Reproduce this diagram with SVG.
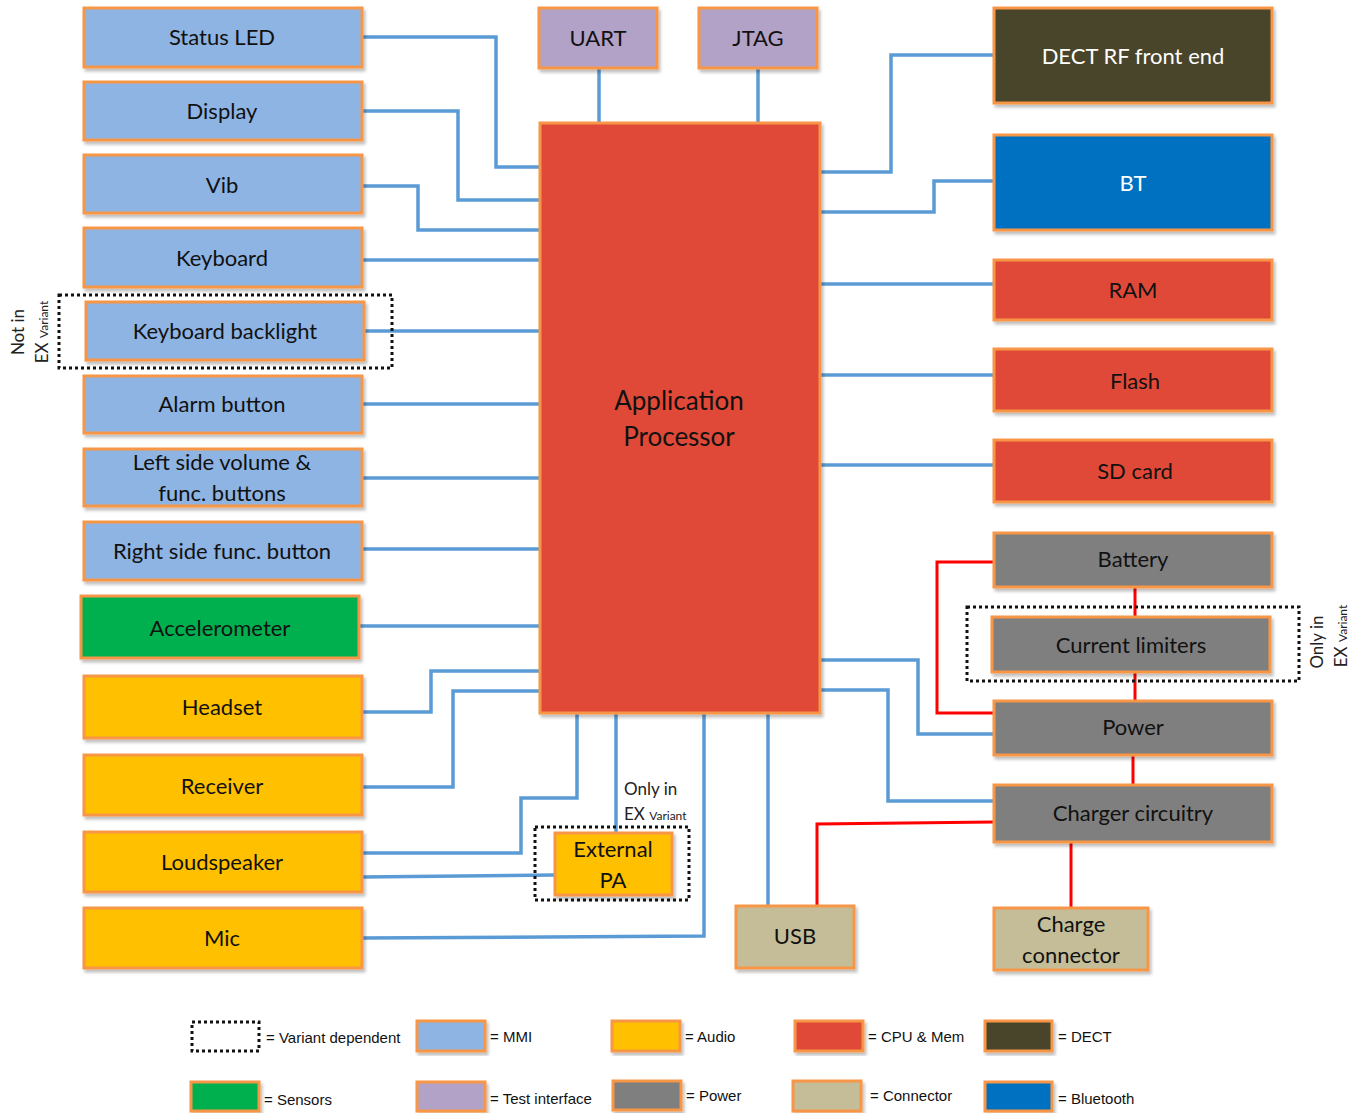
<svg xmlns="http://www.w3.org/2000/svg" width="1365" height="1113" viewBox="0 0 1365 1113">
<defs>
<filter id="sh" x="-5%" y="-5%" width="115%" height="120%"><feDropShadow dx="2" dy="3" stdDeviation="1.5" flood-color="#000" flood-opacity="0.25"/></filter>
<style>
.b{stroke:#F79646;stroke-width:3;filter:url(#sh)}
.mmi{fill:#8EB4E3}.aud{fill:#FFC000}.cpu{fill:#E04A37}.dect{fill:#4A4429}.bt{fill:#0070C0}
.sen{fill:#00B050}.tst{fill:#B3A2C7}.pwr{fill:#7F7F7F}.con{fill:#C4BD97}
.t{font-family:Lato,"Open Sans","Liberation Sans",sans-serif;font-size:22px;fill:#111;text-anchor:middle;dominant-baseline:central}
.w{fill:#fff}
.s{font-family:Lato,"Open Sans","Liberation Sans",sans-serif;font-size:17px;fill:#222}
.sm{font-size:12px}
.lg{font-family:"Liberation Sans Narrow","Liberation Sans",sans-serif;font-size:15px;fill:#111;dominant-baseline:central}
.blue{fill:none;stroke:#5B9BD5;stroke-width:3.5}
.red{fill:none;stroke:#FF0000;stroke-width:3}
.dot{fill:none;stroke:#111;stroke-width:3;stroke-dasharray:3 3}
</style>
</defs>
<rect width="1365" height="1113" fill="#fff"/>

<g id="connectors">
<path class="blue" d="M362 37H496V167H540"/>
<path class="blue" d="M362 111H458V200H540"/>
<path class="blue" d="M362 186H418V230H540"/>
<path class="blue" d="M362 260H540"/>
<path class="blue" d="M364 331H540"/>
<path class="blue" d="M362 404H540"/>
<path class="blue" d="M362 478H540"/>
<path class="blue" d="M362 549H540"/>
<path class="blue" d="M359 626H540"/>
<path class="blue" d="M362 712H431V671H540"/>
<path class="blue" d="M362 787H453V691H540"/>
<path class="blue" d="M362 853H521V798H577V713"/>
<path class="blue" d="M362 877L555 875"/>
<path class="blue" d="M616 713V833"/>
<path class="blue" d="M362 938L704 936V713"/>
<path class="blue" d="M768 713V906"/>
<path class="blue" d="M599 68V123"/>
<path class="blue" d="M758 68V123"/>
<path class="blue" d="M820 172H891V55H994"/>
<path class="blue" d="M820 212H934V181H994"/>
<path class="blue" d="M820 284H994"/>
<path class="blue" d="M820 375H994"/>
<path class="blue" d="M820 465H994"/>
<path class="blue" d="M820 660H918V734H994"/>
<path class="blue" d="M820 690H888V801H994"/>
<path class="red" d="M994 562H937V713H994"/>
<path class="red" d="M1135 587V617"/>
<path class="red" d="M1135 672V701"/>
<path class="red" d="M1133 755V785"/>
<path class="red" d="M994 822L817 824V906"/>
<path class="red" d="M1071 842V908"/>
</g>

<g id="status-led"><rect class="b mmi" x="84" y="8" width="278" height="59"/><text class="t" x="222" y="36">Status LED</text></g>
<g id="display"><rect class="b mmi" x="84" y="82" width="278" height="58"/><text class="t" x="222" y="110">Display</text></g>
<g id="vib"><rect class="b mmi" x="84" y="155" width="278" height="58"/><text class="t" x="222" y="184">Vib</text></g>
<g id="keyboard"><rect class="b mmi" x="84" y="228" width="278" height="59"/><text class="t" x="222" y="257">Keyboard</text></g>
<g id="keyboard-backlight"><rect class="b mmi" x="86" y="302" width="278" height="58"/><text class="t" x="225" y="330">Keyboard backlight</text>
<rect class="dot" x="59" y="295" width="333" height="73"/>
<text class="s" transform="translate(24 332) rotate(-90)" text-anchor="middle">Not in</text>
<text class="s" transform="translate(48 332) rotate(-90)" text-anchor="middle">EX <tspan class="sm">Variant</tspan></text></g>
<g id="alarm-button"><rect class="b mmi" x="84" y="376" width="278" height="57"/><text class="t" x="222" y="403">Alarm button</text></g>
<g id="left-side"><rect class="b mmi" x="84" y="449" width="278" height="57"/><text class="t" x="222" y="461">Left side volume &amp;</text><text class="t" x="222" y="492">func. buttons</text></g>
<g id="right-side"><rect class="b mmi" x="84" y="522" width="278" height="58"/><text class="t" x="222" y="550">Right side func. button</text></g>
<g id="accelerometer"><rect class="b sen" x="81" y="596" width="278" height="62"/><text class="t" x="220" y="627">Accelerometer</text></g>
<g id="headset"><rect class="b aud" x="84" y="676" width="278" height="62"/><text class="t" x="222" y="706">Headset</text></g>
<g id="receiver"><rect class="b aud" x="84" y="755" width="278" height="60"/><text class="t" x="222" y="785">Receiver</text></g>
<g id="loudspeaker"><rect class="b aud" x="84" y="832" width="278" height="60"/><text class="t" x="222" y="861">Loudspeaker</text></g>
<g id="mic"><rect class="b aud" x="84" y="908" width="278" height="60"/><text class="t" x="222" y="937">Mic</text></g>

<g id="uart"><rect class="b tst" x="539" y="8" width="118" height="60"/><text class="t" x="598" y="37">UART</text></g>
<g id="jtag"><rect class="b tst" x="699" y="8" width="118" height="60"/><text class="t" x="758" y="37">JTAG</text></g>
<g id="application-processor"><rect class="b cpu" x="540" y="123" width="280" height="590"/><text class="t" x="679" y="400" style="font-size:26px">Application</text><text class="t" x="679" y="436" style="font-size:26px">Processor</text></g>

<g id="external-pa"><rect class="b aud" x="555" y="833" width="117" height="62"/><text class="t" x="613" y="848">External</text><text class="t" x="613" y="879">PA</text>
<rect class="dot" x="535" y="827" width="154" height="73"/>
<text class="s" x="624" y="795">Only in</text>
<text class="s" x="624" y="820">EX <tspan class="sm">Variant</tspan></text></g>

<g id="dect"><rect class="b dect" x="994" y="8" width="278" height="95"/><text class="t w" x="1133" y="55">DECT RF front end</text></g>
<g id="bt"><rect class="b bt" x="994" y="135" width="278" height="95"/><text class="t w" x="1133" y="182">BT</text></g>
<g id="ram"><rect class="b cpu" x="994" y="260" width="278" height="60"/><text class="t" x="1133" y="289">RAM</text></g>
<g id="flash"><rect class="b cpu" x="994" y="349" width="278" height="62"/><text class="t" x="1135" y="380">Flash</text></g>
<g id="sd-card"><rect class="b cpu" x="994" y="440" width="278" height="62"/><text class="t" x="1135" y="470">SD card</text></g>
<g id="battery"><rect class="b pwr" x="994" y="533" width="278" height="54"/><text class="t" x="1133" y="558">Battery</text></g>
<g id="current-limiters"><rect class="b pwr" x="992" y="617" width="278" height="55"/><text class="t" x="1131" y="644">Current limiters</text>
<rect class="dot" x="967" y="607" width="332" height="74"/>
<text class="s" transform="translate(1323 642) rotate(-90)" text-anchor="middle">Only in</text>
<text class="s" transform="translate(1347 636) rotate(-90)" text-anchor="middle">EX <tspan class="sm">Variant</tspan></text></g>
<g id="power"><rect class="b pwr" x="994" y="701" width="278" height="54"/><text class="t" x="1133" y="726">Power</text></g>
<g id="charger-circuitry"><rect class="b pwr" x="994" y="785" width="278" height="57"/><text class="t" x="1133" y="812">Charger circuitry</text></g>
<g id="usb"><rect class="b con" x="736" y="906" width="118" height="62"/><text class="t" x="795" y="935">USB</text></g>
<g id="charge-connector"><rect class="b con" x="994" y="908" width="154" height="62"/><text class="t" x="1071" y="923">Charge</text><text class="t" x="1071" y="954">connector</text></g>

<g id="legend">
<rect class="dot" x="192" y="1022" width="67" height="29"/><text class="lg" x="266" y="1037">= Variant dependent</text>
<rect class="b mmi" x="417" y="1021" width="68" height="30"/><text class="lg" x="490" y="1036">= MMI</text>
<rect class="b aud" x="612" y="1021" width="68" height="30"/><text class="lg" x="685" y="1036">= Audio</text>
<rect class="b cpu" x="795" y="1021" width="68" height="30"/><text class="lg" x="868" y="1036">= CPU &amp; Mem</text>
<rect class="b dect" x="985" y="1021" width="67" height="30"/><text class="lg" x="1058" y="1036">= DECT</text>
<rect class="b sen" x="191" y="1082" width="68" height="29"/><text class="lg" x="264" y="1099">= Sensors</text>
<rect class="b tst" x="417" y="1082" width="68" height="29"/><text class="lg" x="490" y="1098">= Test interface</text>
<rect class="b pwr" x="613" y="1081" width="68" height="29"/><text class="lg" x="686" y="1095">= Power</text>
<rect class="b con" x="793" y="1081" width="68" height="30"/><text class="lg" x="870" y="1095">= Connector</text>
<rect class="b bt" x="985" y="1082" width="67" height="29"/><text class="lg" x="1058" y="1098">= Bluetooth</text>
</g>
</svg>
